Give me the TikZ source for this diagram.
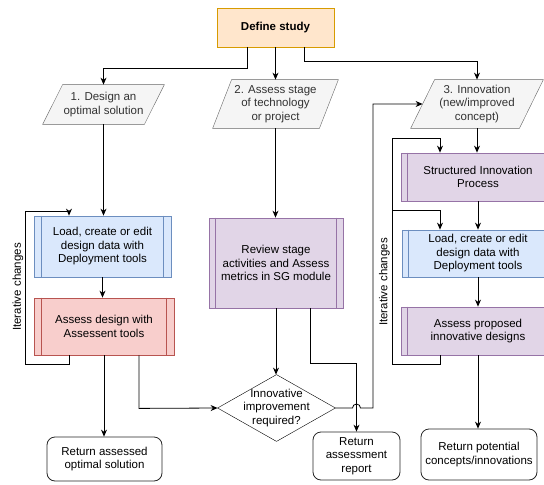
\documentclass[tikz,border=0pt]{standalone}
\usepackage{fontspec}
\setmainfont{Liberation Sans}
\usetikzlibrary{arrows.meta, backgrounds}

\definecolor{orangefill}{HTML}{FFE6CC}
\definecolor{orangeline}{HTML}{D79B00}
\definecolor{greyfill}{HTML}{F5F5F5}
\definecolor{greyline}{HTML}{666666}
\definecolor{bluefill}{HTML}{DAE8FC}
\definecolor{blueline}{HTML}{6C8EBF}
\definecolor{redfill}{HTML}{F8CECC}
\definecolor{redline}{HTML}{B85450}
\definecolor{purplefill}{HTML}{E1D5E7}
\definecolor{purpleline}{HTML}{9673A6}
\definecolor{textgrey}{HTML}{333333}

\begin{document}
\begin{tikzpicture}[x=1pt, y=-1pt,
    font=\fontsize{11.5}{13.5}\selectfont,
    line width=0.8pt,
    proc/.style={draw=#1line, fill=#1fill, align=center, inner sep=2pt},
    para/.style={align=center, text=textgrey, inner sep=0pt},
    paraframe/.style={draw=greyline, fill=greyfill},
    ending/.style={draw=black!85, rounded corners=8pt, align=center, inner sep=2pt},
    arr/.style={-{Stealth[length=7pt, width=6pt]}},
    note/.style={rotate=90}
]
    \useasboundingbox (0,0) rectangle (544,485);
    \clip (0,0) rectangle (544,485);

    % start
    \node[proc=orange, minimum width=117pt, minimum height=39pt] (study) at (275.5,27.5) {\bfseries Define study};

    % the three routes
    \node[para, minimum width=101pt, minimum height=39pt] (p1) at (103.5,104.5) {1. Design an\\optimal solution};
    \node[para, minimum width=106pt, minimum height=48pt] (p2) at (275.5,104) {2. Assess stage\\of technology\\or project};
    \node[para, minimum width=108pt, minimum height=48pt] (p3) at (477,104) {3. Innovation\\(new/improved\\concept)};

    % route 1: optimal design
    \node[proc=blue, minimum width=137pt, minimum height=61pt] (load1) at (102.5,246.5) {Load, create or edit\\design data with\\Deployment tools};
    \node[proc=red, minimum width=140pt, minimum height=57pt] (assess1) at (104,326.5) {Assess design with\\Assessent tools};
    \node[ending, minimum width=115pt, minimum height=44pt] (ret1) at (104.5,459) {Return assessed\\optimal solution};

    % route 2: stage assessment
    \node[proc=purple, minimum width=134pt, minimum height=90pt] (review) at (276,263) {Review stage\\activities and Assess\\metrics in SG module};
    \node[align=center, minimum width=117pt, minimum height=66pt, inner sep=0pt] (dec) at (276.5,408) {Innovative\\improvement\\required?};
    \node[ending, minimum width=87pt, minimum height=48pt] (ret2) at (356.5,456) {Return\\assessment\\report};

    % route 3: innovation
    \node[proc=purple, minimum width=154pt, minimum height=48pt] (sip) at (478,177) {Structured Innovation\\Process};
    \node[proc=blue, minimum width=152pt, minimum height=47pt] (load3) at (478,253.5) {Load, create or edit\\design data with\\Deployment tools};
    \node[proc=purple, minimum width=154pt, minimum height=48pt] (assess3) at (478,331) {Assess proposed\\innovative designs};
    \node[ending, minimum width=116pt, minimum height=51pt] (ret3) at (479,454.5) {Return potential\\concepts/innovations};

    % parallelograms and the decision diamond go behind their text
    \begin{scope}[on background layer]
        \foreach \p/\s in {p1/10, p2/9.5, p3/12} {
            \draw[paraframe] ([xshift=\s pt]\p.north west) -- ([xshift=\s pt]\p.north east)
                -- ([xshift=-\s pt]\p.south east) -- ([xshift=-\s pt]\p.south west) -- cycle;
        }
        \draw[fill=white] (dec.north) -- (dec.east) -- (dec.south) -- (dec.west) -- cycle;
    \end{scope}

    % side bars of the process boxes
    \foreach \bx/\col/\gap in {load1/blueline/8, assess1/redline/8, review/purpleline/7,
                               sip/purpleline/7, load3/blueline/7, assess3/purpleline/7} {
        \draw[\col] ([xshift=\gap pt]\bx.north west) -- ([xshift=\gap pt]\bx.south west)
                    ([xshift=-\gap pt]\bx.north east) -- ([xshift=-\gap pt]\bx.south east);
    }

    % from the start to each route
    \draw[arr] ([xshift=-28.5pt]study.south) -- ++(0,21) -| (p1.north);
    \draw[arr] (study.south) -- (p2.north);
    \draw[arr] ([xshift=28.5pt]study.south) -- ++(0,14) -| (p3.north);

    % route 1
    \draw[arr] (p1.south) -- (p1.south |- load1.north);
    \draw[arr] (load1.south) -- (load1.south |- assess1.north);
    \draw[arr] (assess1.south) -- (assess1.south |- ret1.north);
    \coordinate (loopL) at (25,211);
    \draw[arr] ([xshift=-35pt]assess1.south) -- ++(0,9) -| (loopL) -| ([xshift=-33.5pt]load1.north);
    \node[note] (itL) at (18,287) {Iterative changes};
    \draw[arr] ([xshift=35pt]assess1.south) -- ++(0,53) -- (dec.west);

    % route 2
    \draw[arr] (p2.south) -- (p2.south |- review.north);
    \draw[arr] (review.south) -- (review.south |- dec.north);
    \draw[arr] ([xshift=34pt]review.south) -- ++(0,55) -| (ret2.north);
    \coordinate (upR) at (373,104);
    \draw[arr] (dec.east) -- ([xshift=-4pt]ret2.north |- dec.east)
        arc[start angle=180, end angle=0, radius=4pt] -| (upR) -- (p3.west);

    % route 3
    \draw[arr] (p3.south) -- (p3.south |- sip.north);
    \draw[arr] (sip.south) -- (load3.north);
    \draw[arr] (load3.south) -- (assess3.north);
    \draw[arr] (assess3.south) -- (assess3.south |- ret3.north);
    \coordinate (loopR) at (392,138);
    \coordinate (loopR2) at (392,210);
    \draw[arr] ([xshift=-38pt]assess3.south) -- ++(0,9) -| (loopR) -| ([xshift=-38pt]sip.north);
    \draw[arr] (loopR2) -| ([xshift=-38pt]load3.north);
    \node[note] (itR) at (384.5,282) {Iterative changes};
\end{tikzpicture}
\end{document}
